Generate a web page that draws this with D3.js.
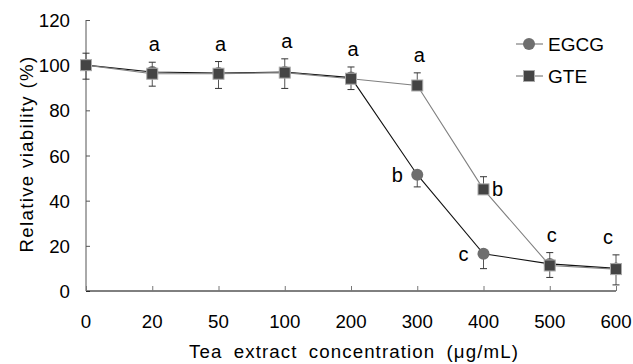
<!DOCTYPE html>
<html>
<head>
<meta charset="utf-8">
<script src="https://cdn.jsdelivr.net/npm/d3@7"></script>
<style>
  body { margin: 0; background: #fff; }
  text { font-family: "Liberation Sans", Arial, sans-serif; fill: #000; }
</style>
</head>
<body>
<svg id="svg"></svg>
<script>
// chart data
let concentrations = ["0", "20", "50", "100", "200", "300", "400", "500", "600"];
let egcgValues = [100, 97, 96.5, 97, 94.5, 51.5, 16.5, 12, 10];
let egcgErrors = [6.2, 6.3, 6.8, 7.3, 5.3, 5.4, 6.6, 6, 7.3];   // drawn below the point
let gteValues = [100, 96.2, 96.2, 96.7, 94, 91, 45, 11.3, 9.7];
let gteErrors = [5.3, 5.1, 5.4, 6.1, 5.2, 5.6, 5.6, 5.7, 6.3];  // drawn above the point
let yTicks = [0, 20, 40, 60, 80, 100, 120];

// significance letters: [category, letter, series, placement]
let letters = [
  ["20", "a", "gte", "top"], ["50", "a", "gte", "top"], ["100", "a", "gte", "top"],
  ["200", "a", "gte", "top"], ["300", "a", "gte", "top"],
  ["300", "b", "egcg", "left"], ["400", "b", "gte", "right"],
  ["400", "c", "egcg", "left"], ["500", "c", "gte", "top"], ["600", "c", "gte", "top"]
];

let width = 633, height = 364;
let svg = d3.select("#svg").attr("width", width).attr("height", height);

let x = d3.scalePoint().domain(concentrations).range([86, 616]);
let y = d3.scaleLinear().domain([0, 120]).range([291, 20]);

// axes
let yAxis = svg.append("g").attr("transform", "translate(86,0)")
  .call(d3.axisRight(y).tickValues(yTicks).tickSize(4).tickFormat(""));
yAxis.select(".domain").attr("stroke", "#555").attr("d", "M0," + y(120) + "V" + y(0));
yAxis.selectAll(".tick line").attr("stroke", "#555");

let xAxis = svg.append("g").attr("transform", "translate(0,291)")
  .call(d3.axisTop(x).tickSize(5).tickFormat(""));
xAxis.select(".domain").attr("stroke", "#000").attr("d", "M86,0H616");
xAxis.selectAll(".tick line").attr("stroke", "#777");

svg.append("g").selectAll("text").data(yTicks).enter().append("text")
  .attr("x", 70).attr("y", function(d) { return y(d) + 7; })
  .attr("text-anchor", "end").style("font-size", "18.7px")
  .text(function(d) { return d; });

svg.append("g").selectAll("text").data(concentrations).enter().append("text")
  .attr("x", function(d) { return x(d); }).attr("y", 328)
  .attr("text-anchor", "middle").style("font-size", "18.7px")
  .text(function(d) { return d; });

svg.append("text")
  .attr("transform", "translate(33,154) rotate(-90)")
  .attr("text-anchor", "middle").style("font-size", "18.7px")
  .style("letter-spacing", "1.3px")
  .text("Relative viability (%)");

svg.append("text")
  .attr("x", 354).attr("y", 358)
  .attr("text-anchor", "middle").style("font-size", "18.7px")
  .style("letter-spacing", "1.1px").style("word-spacing", "5px")
  .text("Tea extract concentration (μg/mL)");

// series (dir: side of the error bar, -1 below, +1 above)
let series = [
  { key: "egcg", name: "EGCG", values: egcgValues, errors: egcgErrors, dir: -1,
    line: "#111", shape: "circle", fill: "#6e6e6e" },
  { key: "gte", name: "GTE", values: gteValues, errors: gteErrors, dir: 1,
    line: "#808080", shape: "square", fill: "#444" }
];

let line = d3.line()
  .x(function(d) { return x(d.c); })
  .y(function(d) { return y(d.v); });

function points(s) {
  return concentrations.map(function(c, i) {
    return { c: c, v: s.values[i], e: s.errors[i] };
  });
}

series.forEach(function(s) {
  let pts = points(s);
  let g = svg.append("g");
  g.append("path").datum(pts).attr("d", line)
    .attr("fill", "none").attr("stroke", s.line).attr("stroke-width", 1.1);

  let eb = g.selectAll(".err").data(pts).enter().append("g");
  eb.append("line")
    .attr("x1", function(d) { return x(d.c); }).attr("x2", function(d) { return x(d.c); })
    .attr("y1", function(d) { return y(d.v); })
    .attr("y2", function(d) { return y(d.v + s.dir * d.e); })
    .attr("stroke", "#555").attr("stroke-width", 1);
  eb.append("line")
    .attr("x1", function(d) { return x(d.c) - 3.5; }).attr("x2", function(d) { return x(d.c) + 3.5; })
    .attr("y1", function(d) { return y(d.v + s.dir * d.e); })
    .attr("y2", function(d) { return y(d.v + s.dir * d.e); })
    .attr("stroke", "#333").attr("stroke-width", 1);

  if (s.shape == "circle") {
    g.selectAll("circle").data(pts).enter().append("circle")
      .attr("cx", function(d) { return x(d.c); }).attr("cy", function(d) { return y(d.v); })
      .attr("r", 6).attr("fill", s.fill);
  } else {
    g.selectAll("rect").data(pts).enter().append("rect")
      .attr("x", function(d) { return x(d.c) - 5.5; }).attr("y", function(d) { return y(d.v) - 5.5; })
      .attr("width", 11).attr("height", 11)
      .attr("fill", s.fill).attr("stroke", "#aaa").attr("stroke-width", 1);
  }
});

// letters
function lookup(key, c) {
  let s = series.find(function(t) { return t.key == key; });
  let i = concentrations.indexOf(c);
  return { v: s.values[i], e: s.errors[i] };
}

svg.append("g").selectAll("text").data(letters).enter().append("text")
  .style("font-size", "20px")
  .attr("text-anchor", "middle")
  .attr("x", function(d) {
    if (d[3] == "left") return x(d[0]) - 20;
    if (d[3] == "right") return x(d[0]) + 14;
    return x(d[0]) + (d[0] == "600" ? -8 : 2);
  })
  .attr("y", function(d) {
    let p = lookup(d[2], d[0]);
    if (d[3] == "top") return y(p.v + p.e) - 11;
    return y(p.v) + 7;
  })
  .text(function(d) { return d[1]; });

// legend
let legend = svg.append("g").selectAll("g").data(series).enter().append("g")
  .attr("transform", function(d, i) { return "translate(516," + (44 + i * 32) + ")"; });
legend.append("line").attr("x1", 0).attr("x2", 27).attr("stroke", "#666");
legend.each(function(d) {
  let g = d3.select(this);
  if (d.shape == "circle") {
    g.append("circle").attr("cx", 13).attr("r", 6).attr("fill", d.fill);
  } else {
    g.append("rect").attr("x", 7.5).attr("y", -5.5).attr("width", 11).attr("height", 11)
      .attr("fill", d.fill).attr("stroke", "#aaa");
  }
});
legend.append("text").attr("x", 32).attr("y", 7).style("font-size", "19px")
  .text(function(d) { return d.name; });
</script>
</body>
</html>
